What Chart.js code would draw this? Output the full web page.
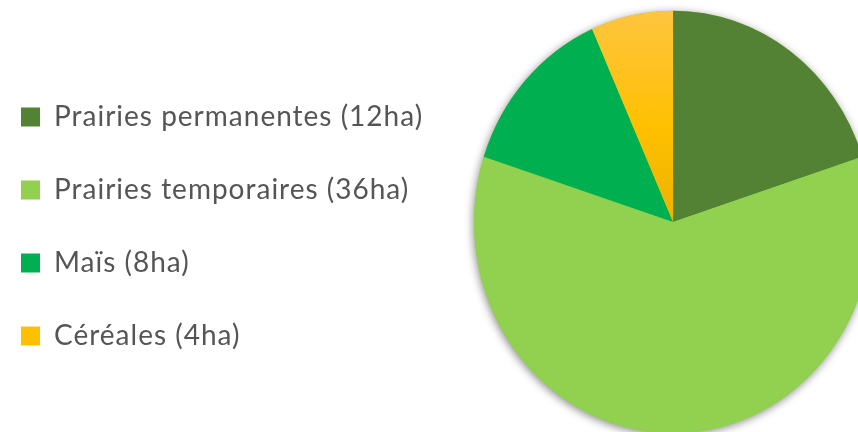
<!DOCTYPE html>
<html>
<head>
<meta charset="utf-8">
<script src="https://cdn.jsdelivr.net/npm/chart.js@4/dist/chart.umd.min.js"></script>
<style>
  html, body { margin: 0; padding: 0; background: #fff; overflow: hidden; }
  #wrap { position: absolute; left: 0; top: 0; width: 973px; height: 432px; }
</style>
</head>
<body>
<div id="wrap"><canvas id="surfaceChart"></canvas></div>
<script>
// Assolement de l'exploitation
const categories = ['Prairies permanentes (12ha)', 'Prairies temporaires (36ha)', 'Maïs (8ha)', 'Céréales (4ha)'];
const surfaces = [12, 36, 8, 4];
const sliceColors = ['#548235', '#92D050', '#00B050', '#FFC000'];

// legend look
const labelFont = { family: 'Lato', size: 28 };
const labelSpacing = '1px';
const boxSize = 19;
const itemPadding = 45;
const padLeft = -24;
const pieCenterX = 673;

// the original pie is slightly taller than wide
const stretchY = 1.062;

// legend takes its text width, so size the canvas to keep the pie where it was
(function sizeWrap() {
    const m = document.createElement('canvas').getContext('2d');
    m.font = labelFont.size + 'px ' + labelFont.family;
    m.letterSpacing = labelSpacing;
    const textW = Math.max(...categories.map(t => m.measureText(t).width));
    const legendW = itemPadding + boxSize + labelFont.size / 2 + textW + 10;
    const areaLeft = padLeft + legendW;
    document.getElementById('wrap').style.width = Math.round(2 * pieCenterX - areaLeft) + 'px';
})();

// yellow slice has a vertical gradient like the office chart
function sliceColor(context) {
    const i = context.dataIndex;
    const area = context.chart.chartArea;
    if (i !== 3 || !area) return sliceColors[i];
    const top = area.top;
    const mid = (area.top + area.bottom) / 2;
    const g = context.chart.ctx.createLinearGradient(0, top, 0, mid);
    g.addColorStop(0, '#FEC540');
    g.addColorStop(0.55, '#FFC000');
    g.addColorStop(1, '#EEB200');
    return g;
}

const textSpacing = {
    id: 'textSpacing',
    beforeUpdate(chart) { chart.ctx.letterSpacing = labelSpacing; },
    beforeDraw(chart) { chart.ctx.letterSpacing = labelSpacing; }
};

// stretch the pie vertically + soft drop shadow under it
const pieShape = {
    id: 'pieShape',
    beforeDatasetsDraw(chart) {
        const arc = chart.getDatasetMeta(0).data[0];
        if (!arc) return;
        const { x, y, outerRadius } = arc;
        const ctx = chart.ctx;
        ctx.save();
        ctx.translate(x, y);
        ctx.scale(1, stretchY);
        ctx.translate(-x, -y);
        ctx.save();
        ctx.shadowColor = 'rgba(0, 0, 0, 0.45)';
        ctx.shadowBlur = 9;
        ctx.shadowOffsetX = -1;
        ctx.shadowOffsetY = 2;
        ctx.beginPath();
        ctx.arc(x, y, outerRadius, 0, Math.PI * 2);
        ctx.fillStyle = sliceColors[1];
        ctx.fill();
        ctx.restore();
    },
    afterDatasetsDraw(chart) {
        if (chart.getDatasetMeta(0).data[0]) chart.ctx.restore();
    }
};

const ctx = document.getElementById('surfaceChart').getContext('2d');

new Chart(ctx, {
    type: 'pie',
    data: {
        labels: categories,
        datasets: [{
            data: surfaces,
            backgroundColor: sliceColor,
            borderWidth: 0,
            hoverOffset: 0,
            clip: false
        }]
    },
    plugins: [textSpacing, pieShape],
    options: {
        responsive: true,
        maintainAspectRatio: false,
        animation: false,
        events: [],
        layout: {
            padding: { left: padLeft, right: 0, top: 23, bottom: 11 }
        },
        plugins: {
            tooltip: { enabled: false },
            legend: {
                position: 'left',
                align: 'center',
                title: {
                    display: true,
                    text: '',
                    padding: 0,
                    font: { size: 9, lineHeight: 1 }
                },
                labels: {
                    boxWidth: boxSize,
                    boxHeight: boxSize,
                    padding: itemPadding,
                    color: '#555555',
                    font: labelFont,
                    generateLabels(chart) {
                        const items = Chart.overrides.pie.plugins.legend.labels.generateLabels(chart);
                        items.forEach((item, i) => {
                            item.fillStyle = sliceColors[i];
                            item.strokeStyle = sliceColors[i];
                            item.lineWidth = 0;
                        });
                        return items;
                    }
                }
            }
        }
    }
});
</script>
</body>
</html>
